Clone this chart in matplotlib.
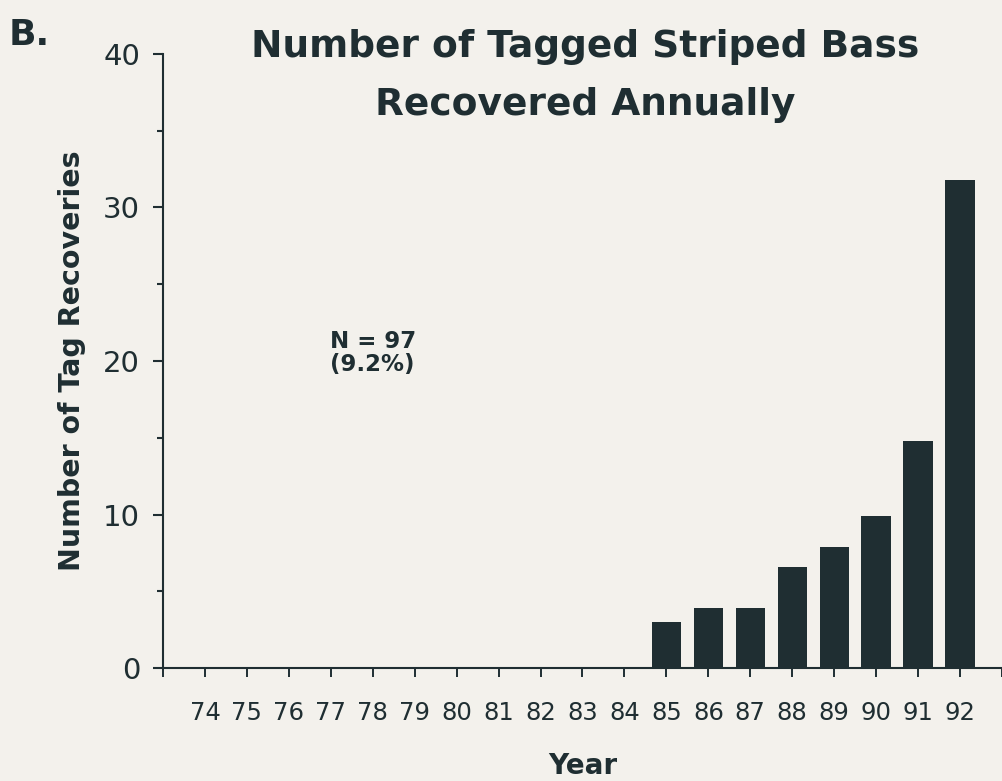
import matplotlib
matplotlib.use("Agg")
import matplotlib.pyplot as plt
from matplotlib.ticker import MultipleLocator, FixedLocator

years = [74, 75, 76, 77, 78, 79, 80, 81, 82, 83, 84, 85, 86, 87, 88, 89, 90, 91, 92]
bar_years = [85, 86, 87, 88, 89, 90, 91, 92]
recoveries = [3.0, 3.9, 3.9, 6.6, 7.9, 9.9, 14.8, 31.8]
year_labels = [str(y) for y in years]

bg = "#f3f1ec"
ink = "#1f2e32"
plt.rcParams['font.family'] = ['DejaVu Sans']

W, H = 1003, 781
fig = plt.figure(figsize=(W / 100, H / 100), dpi=100, facecolor=bg)
ax = fig.add_axes([163 / W, 1 - 668 / H, (1002 - 163) / W, (668 - 54) / H], facecolor=bg)

ax.bar(bar_years, recoveries, width=0.7, color=ink, zorder=3)

ax.set_xlim(73, 93)
ax.set_ylim(0, 40)
for s in ['top', 'right']:
    ax.spines[s].set_visible(False)
for s in ['left', 'bottom']:
    ax.spines[s].set_color(ink)
    ax.spines[s].set_linewidth(1.5)

ax.yaxis.set_major_locator(MultipleLocator(10))
ax.yaxis.set_minor_locator(MultipleLocator(5))
ax.tick_params(axis='y', which='major', length=7.5, width=1.5, color=ink,
               labelsize=21, labelcolor=ink, pad=9)
ax.tick_params(axis='y', which='minor', length=4.5, width=1.5, color=ink)

ax.xaxis.set_major_locator(FixedLocator(years))
ax.set_xticklabels(year_labels)
ax.xaxis.set_minor_locator(FixedLocator([73, 93]))
ax.tick_params(axis='x', which='both', length=6.5, width=1.4, color=ink,
               labelsize=17.5, labelcolor=ink, pad=17)

ax.set_ylabel("Number of Tag Recoveries", fontsize=20.5, fontweight='bold',
              color=ink, labelpad=12)
ax.set_xlabel("Year", fontsize=20, fontweight='bold', color=ink, labelpad=20)

fig.text(585 / W, 1 - 57 / H, "Number of Tagged Striped Bass",
         ha='center', va='baseline', fontsize=27, fontweight='bold', color=ink)
fig.text(585 / W, 1 - 115 / H, "Recovered Annually",
         ha='center', va='baseline', fontsize=27, fontweight='bold', color=ink)
fig.text(9 / W, 1 - 45 / H, "B.", ha='left', va='baseline', fontsize=26,
         fontweight='bold', color=ink)
ax.text(78.0, 21.3, "N = 97", ha='center', va='center', fontsize=16.5,
        fontweight='bold', color=ink)
ax.text(78.0, 19.8, "(9.2%)", ha='center', va='center', fontsize=16.5,
        fontweight='bold', color=ink)

fig.savefig("out.png", dpi=100, facecolor=bg)
